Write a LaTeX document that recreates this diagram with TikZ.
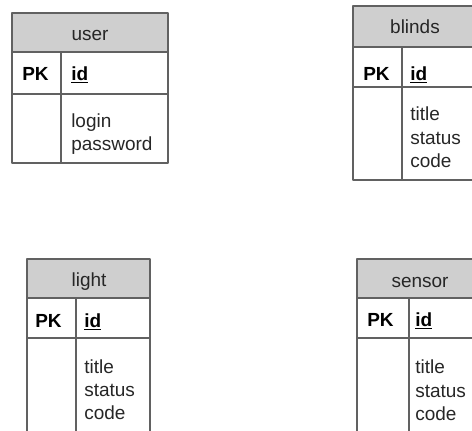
\documentclass[tikz,border=0pt]{standalone}
\usepackage{fontspec}
\setmainfont{Liberation Sans}
\begin{document}
\begin{tikzpicture}[x=0.025cm,y=-0.025cm,
		tbl/.style={draw=black!62,line width=1.2pt,line join=round},
		hdr/.style={tbl,fill=black!19},
		txt/.style={inner sep=0pt,font=\fontsize{13.5}{16}\selectfont,text=black!85},
		title/.style={txt,anchor=base},
		field/.style={txt,anchor=base west},
		pk/.style={field,font=\fontsize{13.5}{16}\selectfont\bfseries,text=black}]
		\useasboundingbox (0,0) rectangle (472,430);
		\clip (0,0) rectangle (472,430);
		% user
		\draw [hdr] (12,13) rectangle (168,52);
		\draw [tbl] (12,52) rectangle (168,163);
		\draw [tbl] (12,94) -- (168,94);
		\draw [tbl] (61,52) -- (61,163);
		\node [title] (user) at (90,40) {user};
		\node [pk] (user-pk) at (22,80) {PK};
		\node [pk] (user-id) at (71,80) {\underline{id}};
		\node [field] (user-login) at (71,127) {login};
		\node [field] (user-pw) at (71,150) {password};
		% blinds
		\draw [hdr] (353,6) rectangle (478,47);
		\draw [tbl] (353,47) rectangle (478,180);
		\draw [tbl] (353,87) -- (478,87);
		\draw [tbl] (402,47) -- (402,180);
		\node [title] (blinds) at (415,33) {blinds};
		\node [pk] (blinds-pk) at (363,80) {PK};
		\node [pk] (blinds-id) at (410,80) {\underline{id}};
		\node [field] (blinds-title) at (410,120) {title};
		\node [field] (blinds-status) at (410,144) {status};
		\node [field] (blinds-code) at (410,167) {code};
		% light
		\draw [hdr] (27,259) rectangle (150,298);
		\draw [tbl] (27,298) rectangle (150,440);
		\draw [tbl] (27,338) -- (150,338);
		\draw [tbl] (76,298) -- (76,440);
		\node [title] (light) at (89,286) {light};
		\node [pk] (light-pk) at (35,327) {PK};
		\node [pk] (light-id) at (84,327) {\underline{id}};
		\node [field] (light-title) at (84,373) {title};
		\node [field] (light-status) at (84,396) {status};
		\node [field] (light-code) at (84,419) {code};
		% sensor
		\draw [hdr] (357,259) rectangle (484,298);
		\draw [tbl] (357,298) rectangle (484,440);
		\draw [tbl] (357,338) -- (484,338);
		\draw [tbl] (409,298) -- (409,440);
		\node [title] (sensor) at (420,287) {sensor};
		\node [pk] (sensor-pk) at (367,326) {PK};
		\node [pk] (sensor-id) at (415,326) {\underline{id}};
		\node [field] (sensor-title) at (415,373) {title};
		\node [field] (sensor-status) at (415,397) {status};
		\node [field] (sensor-code) at (415,420) {code};
\end{tikzpicture}
\end{document}
